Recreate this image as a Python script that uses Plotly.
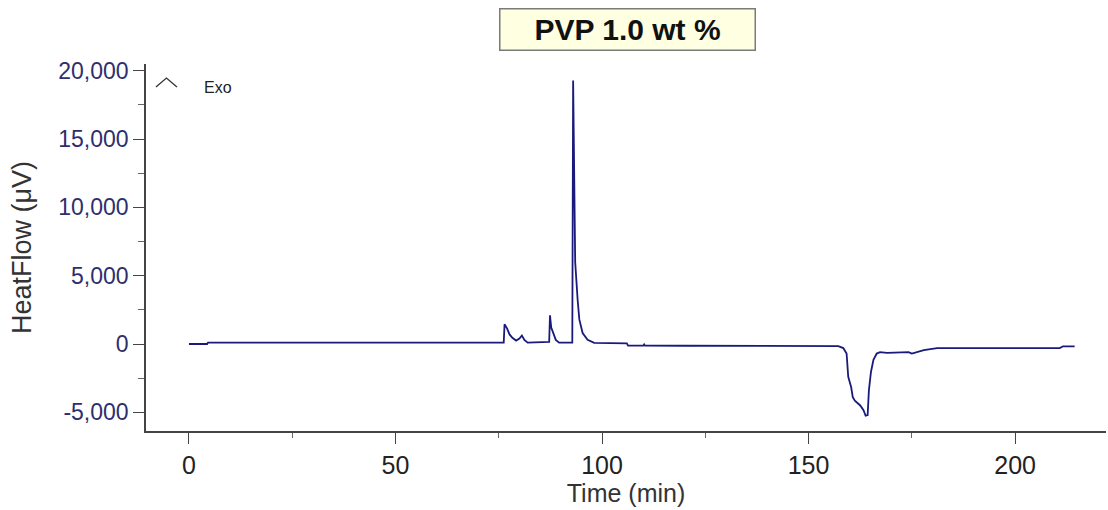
import plotly.graph_objects as go

# Data (time in minutes, heat flow in µV)
time_min = [0, 4.4, 4.6, 40, 76.2, 76.4, 77.0, 77.6, 78.3, 79.2, 80.0, 80.6, 81.2, 82.0,
            87.2, 87.4, 87.7, 88.2, 88.8, 89.6, 92.8, 93.0, 93.1, 93.3, 93.5, 94.1, 94.5,
            95.3, 96.5, 98.1, 106.0, 106.3, 110.0, 110.2, 110.4, 120, 157.2, 158.4, 159.2,
            159.6, 160.3, 160.7, 161.2, 162.5, 163.3, 163.8, 164.3, 164.6, 165.1, 165.7,
            166.5, 167.3, 169.0, 174.2, 175.0, 177.9, 181.1, 210.8, 211.6, 214.4]
heat_flow = [0, 0, 100, 100, 100, 1450, 1150, 700, 450, 250, 400, 620, 300, 100,
             150, 2100, 1200, 800, 300, 100, 100, 19300, 15200, 12300, 6000, 3200, 1800,
             800, 300, 80, 50, -120, -120, -30, -120, -130, -150, -300, -700,
             -2400, -3150, -3900, -4150, -4500, -4850, -5250, -5200, -3400, -2050, -1150,
             -700, -600, -650, -600, -700, -450, -300, -300, -170, -170]

x_ticks = [0, 50, 100, 150, 200]
y_ticks = [-5000, 0, 5000, 10000, 15000, 20000]
y_tick_labels = ["-5,000", "0", "5,000", "10,000", "15,000", "20,000"]

title_text = "PVP 1.0 wt %"
x_title = "Time (min)"
y_title = "HeatFlow (μV)"

FONT = "Liberation Sans, Arial, sans-serif"

fig = go.Figure()
fig.add_trace(go.Scatter(x=time_min, y=heat_flow, mode="lines",
                         line=dict(color="#1a1a7c", width=1.8), showlegend=False,
                         hoverinfo="skip"))

fig.update_layout(
    width=1108, height=510,
    margin=dict(l=146, r=2, t=64, b=79, autoexpand=False),
    paper_bgcolor="white", plot_bgcolor="white",
    font=dict(family=FONT),
)

fig.update_xaxes(
    range=[-10.4, 222], tickvals=x_ticks, ticktext=[str(v) for v in x_ticks],
    automargin=False,
    showgrid=False, zeroline=False, showline=True, linecolor="#444", linewidth=1.5,
    ticks="outside", ticklen=11, tickcolor="#444", tickwidth=1,
    tickfont=dict(size=25, color="#222", family=FONT),
    minor=dict(dtick=25, tick0=0, ticks="outside", ticklen=5, tickcolor="#666", showgrid=False),
    title=dict(text=x_title, font=dict(size=25, color="#333", family=FONT), standoff=0),
)
fig.update_yaxes(
    range=[-6370, 20500], tickvals=y_ticks, ticktext=y_tick_labels,
    automargin=False,
    showgrid=False, zeroline=False, showline=True, linecolor="#444", linewidth=1.5,
    ticks="outside", ticklen=11, tickcolor="#444", tickwidth=1,
    tickfont=dict(size=23, color="#2e2e6e", family=FONT),
    minor=dict(dtick=2500, tick0=0, ticks="outside", ticklen=6, tickcolor="#666", showgrid=False),
    title=dict(text=y_title, font=dict(size=27, color="#333", family=FONT), standoff=19),
)

fig.add_annotation(
    text="<b>" + title_text + "</b>", xref="paper", yref="paper", x=0.502, y=1.093,
    xanchor="center", yanchor="middle", showarrow=False,
    font=dict(size=30, color="#111", family=FONT),
    bgcolor="#ffffe1", bordercolor="#7a7a7a", borderwidth=1.5,
    width=252, height=38, borderpad=1,
)
# "Exo" direction caret (decoration)
fig.add_shape(
    type="path", xref="x", yref="y", xsizemode="pixel", ysizemode="pixel",
    xanchor=-5.45, yanchor=19140, path="M-10.5,-4.5 L0,4.5 L10.5,-4.5",
    line=dict(color="#333", width=1.3),
)
fig.add_annotation(
    text="Exo", xref="paper", yref="paper", x=0.058, y=0.936,
    xanchor="left", yanchor="middle", showarrow=False,
    font=dict(size=16, color="#222", family=FONT),
)

fig.write_html("out.html", config={"displayModeBar": False},
               post_script="document.body.style.margin='0';")
